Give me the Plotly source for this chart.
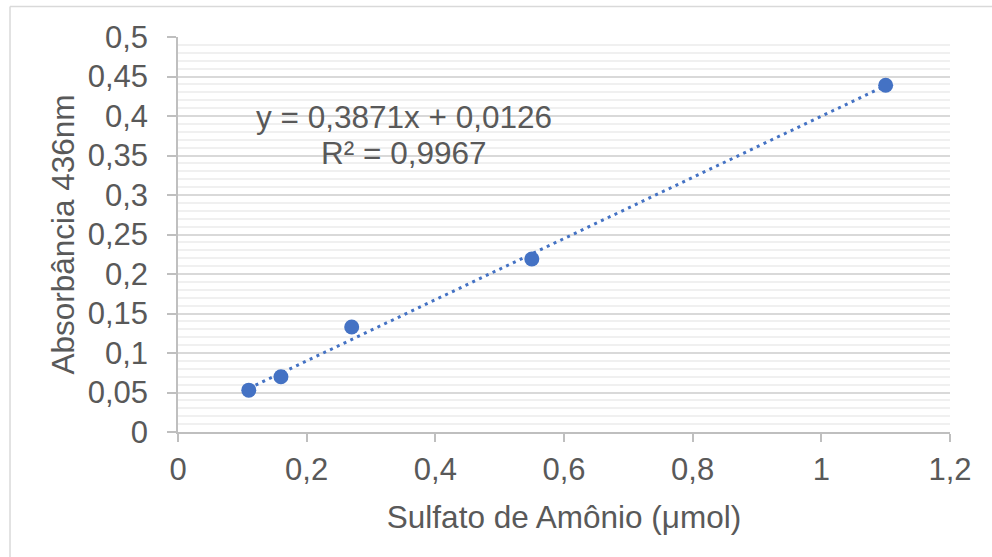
import plotly.graph_objects as go

# Data
sulfato = [0.11, 0.16, 0.27, 0.55, 1.10]
absorbancia = [0.053, 0.070, 0.133, 0.219, 0.439]
slope = 0.3871
intercept = 0.0126
r2 = 0.9967
x_ticks = [0, 0.2, 0.4, 0.6, 0.8, 1.0, 1.2]
y_ticks = [0, 0.05, 0.1, 0.15, 0.2, 0.25, 0.3, 0.35, 0.4, 0.45, 0.5]

BLUE = "#4472C4"
TXT = "#595959"
FONT = "Liberation Sans, Arial, sans-serif"

x_fit = [min(sulfato), max(sulfato)]
y_fit = [slope * v + intercept for v in x_fit]

def fmt(v, d):
    return f"{v:.{d}f}".replace(".", ",")

fig = go.Figure()
fig.add_trace(go.Scatter(
    x=x_fit, y=y_fit, mode="lines",
    line=dict(color=BLUE, width=3, dash="3px,4.5px"),
    hoverinfo="skip", showlegend=False,
))
fig.add_trace(go.Scatter(
    x=sulfato, y=absorbancia, mode="markers",
    marker=dict(color=BLUE, size=15, line=dict(width=0)),
    showlegend=False,
))

fig.add_annotation(x=0.351, y=0.399, xref="x", yref="y",
                   text=f"y = {fmt(slope, 4)}x + {fmt(intercept, 4)}",
                   showarrow=False, font=dict(size=31.5, color=TXT, family=FONT),
                   xanchor="center", yanchor="middle")
fig.add_annotation(x=0.351, y=0.353, xref="x", yref="y",
                   text=f"R² = {fmt(r2, 4)}",
                   showarrow=False, font=dict(size=31.5, color=TXT, family=FONT),
                   xanchor="center", yanchor="middle")

# chart-area border (left and top visible)
border = dict(color="#d9d9d9", width=1.5)
fig.add_shape(type="line", xref="paper", yref="paper",
              x0=-0.2176, x1=-0.2176, y0=1.0772, y1=-0.33, line=border)
fig.add_shape(type="line", xref="paper", yref="paper",
              x0=-0.2176, x1=1.06, y0=1.0772, y1=1.0772, line=border)

fig.update_layout(
    width=992, height=557,
    margin=dict(l=178, r=42, t=37, b=125),
    paper_bgcolor="white", plot_bgcolor="white",
    separators=", ",
    font=dict(family=FONT, color=TXT, size=31),
    xaxis=dict(
        range=[0, 1.2], tickvals=x_ticks, showgrid=False, zeroline=False,
        showline=True, linecolor="#bfbfbf", linewidth=1.5,
        ticks="outside", ticklen=8, tickcolor="#bfbfbf", tickwidth=1.5,
        ticklabelstandoff=1,
        tickfont=dict(size=31, color=TXT),
        title=dict(text="Sulfato de Amônio (μmol)", font=dict(size=31.5, color=TXT), standoff=20),
    ),
    yaxis=dict(
        range=[0, 0.5], tickvals=y_ticks, showgrid=True, gridcolor="#d9d9d9", gridwidth=1.5,
        zeroline=False, showline=True, linecolor="#bfbfbf", linewidth=1.5,
        ticks="outside", ticklen=9, tickcolor="#bfbfbf", tickwidth=1.5,
        ticklabelstandoff=13,
        tickfont=dict(size=31, color=TXT),
        minor=dict(dtick=0.01, showgrid=True, gridcolor="#f0f0f0", gridwidth=1.5, ticks=""),
        title=dict(text="Absorbância 436nm", font=dict(size=31.5, color=TXT), standoff=4),
    ),
)

fig.write_html("out.html")
